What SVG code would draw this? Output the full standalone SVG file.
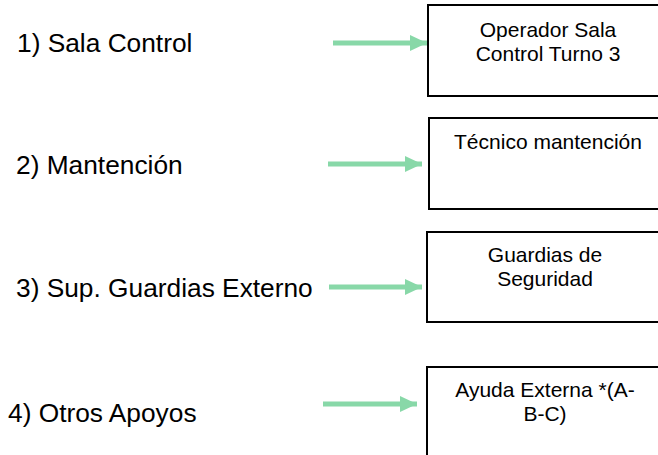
<svg xmlns="http://www.w3.org/2000/svg" width="658" height="455" viewBox="0 0 658 455">
<defs>
<style>
.lbl{font-family:"Liberation Sans",Arial,sans-serif;font-size:26.3px;fill:#000}
.box{fill:#fff;stroke:#000;stroke-width:2}
.bt{font-family:"Liberation Sans",Arial,sans-serif;font-size:21px;fill:#000;text-anchor:middle}
.conn{stroke:#88d8a8;stroke-width:5;fill:none}
.head{fill:#88d8a8}
</style>
<marker id="ah" markerUnits="userSpaceOnUse" markerWidth="18" markerHeight="16" refX="17" refY="8" orient="auto">
<polygon class="head" points="0,0 17,8 0,16"/>
</marker>
</defs>
<rect width="658" height="455" fill="#fff"/>
<g id="label1"><text class="lbl" x="17" y="52">1) Sala Control</text></g>
<g id="label2"><text class="lbl" x="16" y="174">2) Mantención</text></g>
<g id="label3"><text class="lbl" x="16" y="297">3) Sup. Guardias Externo</text></g>
<g id="label4"><text class="lbl" x="8" y="422">4) Otros Apoyos</text></g>
<g id="node1"><rect class="box" x="428" y="5" width="245" height="91"/>
<text class="bt" x="548" y="37">Operador Sala</text><text class="bt" x="548" y="61">Control Turno 3</text></g>
<g id="node2"><rect class="box" x="429" y="118" width="245" height="91"/>
<text class="bt" x="548" y="149">Técnico mantención</text></g>
<g id="node3"><rect class="box" x="427" y="232" width="245" height="90"/>
<text class="bt" x="545" y="262">Guardias de</text><text class="bt" x="545" y="286">Seguridad</text></g>
<g id="node4"><rect class="box" x="427" y="367" width="245" height="100"/>
<text class="bt" x="545" y="397">Ayuda Externa *(A-</text><text class="bt" x="545" y="421">B-C)</text></g>
<g id="connectors">
<line class="conn" x1="333" y1="43" x2="427" y2="43" marker-end="url(#ah)"/>
<line class="conn" x1="328" y1="164" x2="422" y2="164" marker-end="url(#ah)"/>
<line class="conn" x1="329" y1="287" x2="422" y2="287" marker-end="url(#ah)"/>
<line class="conn" x1="323" y1="404" x2="417" y2="404" marker-end="url(#ah)"/>
</g>
</svg>
